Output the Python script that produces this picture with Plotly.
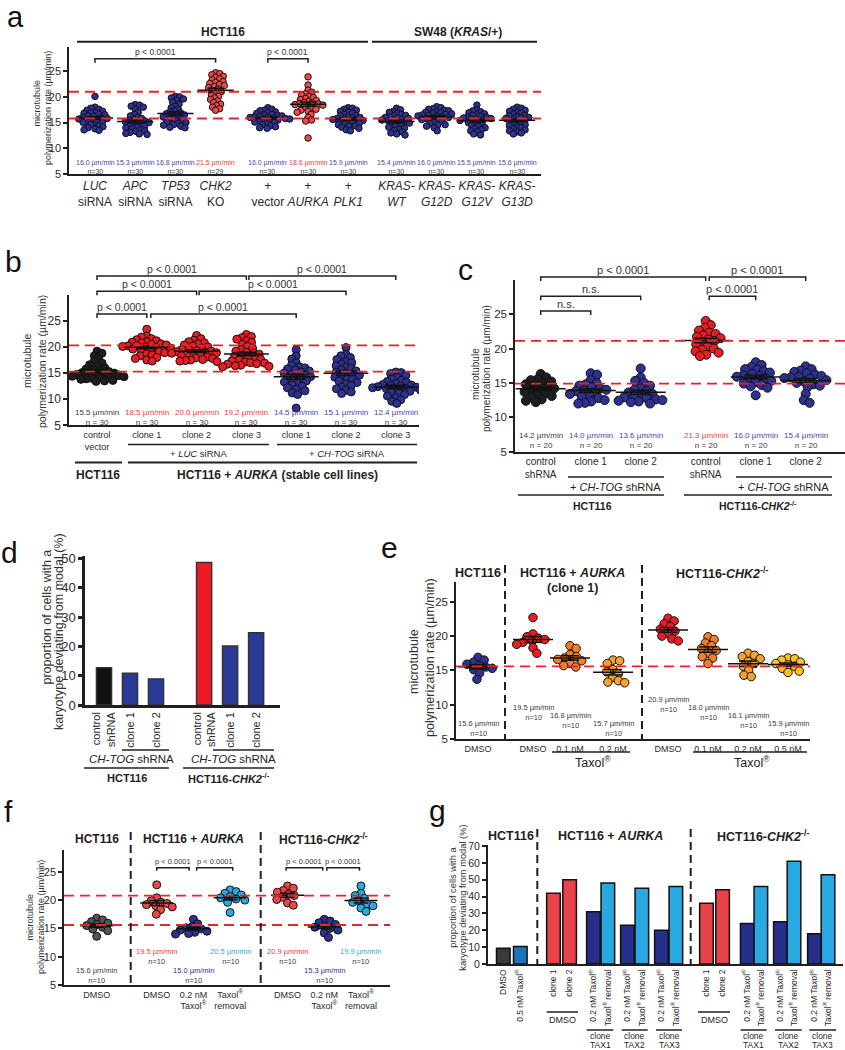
import numpy as np
import plotly.graph_objects as go

W, H = 845, 1050
FONT = "Arial, 'Liberation Sans', Helvetica, sans-serif"

# ============================ DATA ============================
# (a) microtubule polymerization rate (um/min), HCT116 and SW48 (KRAS/+)
a_categories = ["<i>LUC</i><br>siRNA", "<i>APC</i><br>siRNA", "<i>TP53</i><br>siRNA", "<i>CHK2</i><br>KO",
                "+<br>vector", "+<br><i>AURKA</i>", "+<br><i>PLK1</i>",
                "<i>KRAS-</i><br><i>WT</i>", "<i>KRAS-</i><br><i>G12D</i>",
                "<i>KRAS-</i><br><i>G12V</i>", "<i>KRAS-</i><br><i>G13D</i>"]
a_luc = [20.1, 18.0, 17.8, 17.6, 17.4, 17.2, 17.0, 16.9, 16.8, 16.6, 16.5, 16.3, 16.2, 16.0, 15.9,
         15.8, 15.7, 15.5, 15.3, 15.1, 15.0, 14.8, 14.6, 14.4, 14.2, 14.0, 13.8, 13.6, 13.5, 15.6]
a_apc = [18.5, 18.4, 18.2, 18.0, 17.6, 17.0, 16.6, 16.3, 16.0, 15.8, 15.6, 15.4, 15.3, 15.1, 15.0,
         14.8, 14.6, 14.5, 14.3, 14.1, 14.0, 13.8, 13.6, 13.4, 13.3, 13.1, 12.9, 12.8, 12.7, 15.2]
a_tp53 = [20.1, 20.0, 19.8, 19.6, 19.3, 19.0, 18.6, 18.2, 17.9, 17.6, 17.3, 17.1, 16.9, 16.7, 16.5,
          16.3, 16.1, 15.9, 15.7, 15.5, 15.3, 15.1, 15.0, 14.8, 14.6, 14.5, 14.3, 14.1, 14.0, 16.6]
a_chk2 = [24.7, 24.5, 24.3, 24.0, 23.8, 23.5, 23.3, 23.0, 22.8, 22.6, 22.4, 22.2, 22.0, 21.8, 21.5,
          21.3, 21.0, 20.7, 20.4, 20.1, 19.8, 19.5, 19.2, 18.9, 18.6, 18.3, 18.0, 17.7, 17.4]
a_vector = [17.9, 17.6, 17.4, 17.3, 17.1, 16.9, 16.8, 16.6, 16.5, 16.4, 16.3, 16.2, 16.1, 16.0, 16.0,
            15.9, 15.8, 15.7, 15.6, 15.5, 15.4, 15.3, 15.1, 15.0, 14.8, 14.6, 14.4, 14.2, 14.0, 13.9]
a_aurka = [23.9, 22.3, 21.3, 20.9, 20.6, 20.3, 20.1, 19.9, 19.7, 19.5, 19.3, 19.1, 18.9, 18.8, 18.7,
           18.6, 18.5, 18.4, 18.2, 18.0, 17.8, 17.6, 17.4, 17.2, 17.0, 16.6, 16.0, 15.5, 15.3, 12.0]
a_plk1 = [17.9, 17.8, 17.6, 17.4, 17.2, 17.0, 16.8, 16.6, 16.4, 16.3, 16.1, 16.0, 15.9, 15.8, 15.7,
          15.6, 15.5, 15.4, 15.3, 15.2, 15.0, 14.9, 14.7, 14.6, 14.4, 14.3, 14.1, 13.9, 13.6, 13.4]
a_kras_wt = [17.8, 17.5, 17.2, 17.0, 16.8, 16.6, 16.4, 16.3, 16.1, 16.0, 15.9, 15.8, 15.6, 15.5, 15.4,
             15.3, 15.2, 15.0, 14.9, 14.7, 14.5, 14.3, 14.1, 13.9, 13.7, 13.5, 13.2, 13.0, 12.8, 12.6]
a_kras_g12d = [18.1, 17.9, 17.7, 17.6, 17.4, 17.3, 17.1, 17.0, 16.9, 16.8, 16.7, 16.6, 16.5, 16.4, 16.3,
               16.2, 16.1, 16.0, 15.9, 15.8, 15.6, 15.4, 15.2, 15.0, 14.8, 14.6, 14.5, 14.3, 14.0, 13.4]
a_kras_g12v = [18.4, 17.5, 17.3, 17.1, 16.9, 16.7, 16.5, 16.4, 16.2, 16.1, 16.0, 15.9, 15.8, 15.7, 15.6,
               15.5, 15.4, 15.2, 15.0, 14.8, 14.6, 14.4, 14.2, 14.0, 13.8, 13.6, 13.4, 13.2, 12.8, 12.6]
a_kras_g13d = [18.0, 17.8, 17.6, 17.4, 17.2, 17.0, 16.8, 16.6, 16.4, 16.3, 16.1, 16.0, 15.9, 15.8, 15.7,
               15.5, 15.3, 15.1, 15.0, 14.8, 14.6, 14.4, 14.2, 14.0, 13.8, 13.6, 13.4, 13.2, 13.0, 12.8]
a_rate_labels = ["16.0", "15.3", "16.8", "21.5", "16.0", "18.6", "15.9", "15.4", "16.0", "15.5", "15.6"]
a_n = [30, 30, 30, 29, 30, 30, 30, 30, 30, 30, 30]
a_reference = [21.0, 15.8]

# (b) HCT116 + AURKA stable cell lines
b_categories = ["control<br>vector", "clone 1", "clone 2", "clone 3", "clone 1", "clone 2", "clone 3"]
b_control = [19.2, 18.8, 18.3, 17.7, 17.2, 16.9, 16.6, 16.3, 16.0, 15.8, 15.6, 15.4, 15.3, 15.1, 15.0,
             14.9, 14.8, 14.7, 14.6, 14.5, 14.4, 14.3, 14.2, 14.1, 14.0, 13.9, 13.8, 13.6, 13.5, 13.4]
b_luc_c1 = [23.4, 22.1, 21.9, 21.6, 21.4, 21.2, 21.0, 20.9, 20.8, 20.6, 20.5, 20.4, 20.3, 20.2, 20.1,
            20.0, 19.9, 19.8, 19.6, 19.5, 19.3, 19.1, 18.9, 18.7, 18.5, 18.3, 18.0, 17.8, 17.5, 17.3]
b_luc_c2 = [22.2, 21.6, 21.3, 21.0, 20.8, 20.6, 20.4, 20.2, 20.0, 19.8, 19.6, 19.5, 19.3, 19.2, 19.1,
            19.0, 18.9, 18.8, 18.7, 18.6, 18.5, 18.3, 18.1, 17.9, 17.8, 17.6, 17.5, 17.4, 17.3, 17.2]
b_luc_c3 = [22.4, 22.0, 21.8, 21.5, 21.2, 20.9, 20.5, 20.1, 19.8, 19.5, 19.2, 19.0, 18.8, 18.6, 18.4,
            18.2, 18.0, 17.8, 17.6, 17.5, 17.3, 17.1, 17.0, 16.9, 16.8, 16.7, 16.5, 16.4, 16.3, 16.2]
b_tog_c1 = [19.5, 18.3, 17.7, 17.0, 16.5, 16.2, 16.0, 15.8, 15.6, 15.4, 15.2, 15.0, 14.8, 14.6, 14.5,
            14.3, 14.1, 13.9, 13.7, 13.5, 13.3, 13.0, 12.7, 12.5, 12.2, 11.9, 11.6, 11.2, 10.9, 8.3]
b_tog_c2 = [19.9, 18.6, 18.3, 18.0, 17.6, 17.2, 17.0, 16.7, 16.4, 16.1, 15.9, 15.6, 15.4, 15.2, 15.0,
            14.8, 14.6, 14.4, 14.2, 14.0, 13.8, 13.5, 13.2, 12.9, 12.6, 12.3, 12.0, 11.7, 11.4, 11.1]
b_tog_c3 = [15.2, 15.1, 14.9, 14.6, 14.2, 13.9, 13.6, 13.4, 13.2, 13.0, 12.8, 12.7, 12.6, 12.5, 12.4,
            12.3, 12.2, 12.1, 12.0, 11.9, 11.7, 11.5, 11.3, 11.1, 10.9, 10.6, 10.3, 9.9, 9.6, 9.2]
b_rate_labels = ["15.5", "18.5", "20.0", "19.2", "14.5", "15.1", "12.4"]
b_n = [30, 30, 30, 30, 30, 30, 30]
b_reference = [20.3, 15.3]

# (c) HCT116 and HCT116-CHK2-/- with CH-TOG shRNA
c_categories = ["control<br>shRNA", "clone 1", "clone 2", "control<br>shRNA", "clone 1", "clone 2"]
c_hct_ctrl = [16.3, 15.8, 15.5, 15.4, 15.2, 15.0, 14.8, 14.6, 14.4, 14.2, 14.1, 13.9, 13.7, 13.5, 13.3,
              13.1, 12.9, 12.6, 12.4, 12.2]
c_hct_c1 = [16.4, 16.2, 15.4, 15.0, 14.8, 14.6, 14.4, 14.2, 14.0, 13.9, 13.8, 13.6, 13.4, 13.2, 13.0,
            12.8, 12.5, 12.3, 12.1, 12.0]
c_hct_c2 = [17.1, 15.8, 15.3, 15.0, 14.6, 14.2, 14.0, 13.8, 13.6, 13.4, 13.2, 13.0, 12.9, 12.8, 12.6,
            12.5, 12.4, 12.3, 12.2, 12.0]
c_chk2_ctrl = [24.0, 23.4, 23.0, 22.6, 22.3, 22.1, 21.9, 21.7, 21.5, 21.3, 21.1, 20.9, 20.6, 20.3, 20.0,
               19.8, 19.6, 19.4, 19.1, 18.9]
c_chk2_c1 = [18.0, 17.6, 17.3, 17.0, 16.9, 16.7, 16.5, 16.3, 16.1, 16.0, 15.9, 15.7, 15.5, 15.3, 15.1,
             14.9, 14.7, 14.5, 14.3, 13.2]
c_chk2_c2 = [17.4, 17.0, 16.8, 16.6, 16.4, 16.2, 16.0, 15.9, 15.8, 15.7, 15.6, 15.4, 15.2, 15.0, 14.8,
             14.6, 14.4, 13.4, 12.5, 12.1]
c_rate_labels = ["14.2", "14.0", "13.6", "21.3", "16.0", "15.4"]
c_n = [20, 20, 20, 20, 20, 20]
c_reference = [21.1, 14.9]

# (d) proportion of cells with a karyotype deviating from modal (%)
d_categories = ["control<br>shRNA", "clone 1", "clone 2", "control<br>shRNA", "clone 1", "clone 2"]
d_values = [12.7, 10.8, 8.9, 48.6, 20.1, 24.7]

# (e) Taxol titration
e_categories = ["DMSO", "DMSO", "0.1 nM", "0.2 nM", "DMSO", "0.1 nM", "0.2 nM", "0.5 nM"]
e_hct_dmso = [16.9, 16.5, 16.2, 15.9, 15.7, 15.5, 15.3, 15.1, 14.6, 13.7]
e_aur_dmso = [22.7, 20.3, 19.9, 19.7, 19.5, 19.3, 19.1, 18.8, 18.3, 17.5]
e_aur_01 = [18.6, 18.2, 17.3, 17.0, 16.8, 16.6, 16.4, 16.0, 15.7, 15.5]
e_aur_02 = [16.5, 16.4, 16.0, 15.1, 14.8, 14.5, 14.0, 13.5, 13.3, 13.2]
e_chk_dmso = [22.6, 22.2, 21.8, 21.4, 21.0, 20.7, 20.4, 20.0, 19.6, 19.3]
e_chk_01 = [19.9, 19.5, 19.0, 18.6, 18.2, 17.9, 17.5, 17.0, 16.8, 16.0]
e_chk_02 = [17.5, 17.2, 17.0, 16.7, 16.3, 16.0, 15.6, 15.0, 14.3, 14.1]
e_chk_05 = [16.8, 16.7, 16.5, 16.2, 16.0, 15.8, 15.6, 15.3, 14.9, 14.7]
e_rate_labels = ["15.6", "19.5", "16.8", "15.7", "20.9", "18.0", "16.1", "15.9"]
e_n = [10, 10, 10, 10, 10, 10, 10, 10]
e_reference = [15.6]

# (f) Taxol removal
f_categories = ["DMSO", "DMSO", "0.2 nM<br>Taxol<sup>®</sup>", "Taxol<sup>®</sup><br>removal",
                "DMSO", "0.2 nM<br>Taxol<sup>®</sup>", "Taxol<sup>®</sup><br>removal"]
f_hct_dmso = [16.8, 16.5, 16.2, 15.9, 15.7, 15.5, 15.2, 14.9, 14.6, 13.6]
f_aur_dmso = [22.7, 20.4, 19.9, 19.6, 19.4, 19.2, 19.0, 18.8, 18.3, 17.5]
f_aur_taxol = [16.6, 15.8, 15.3, 15.1, 14.9, 14.7, 14.5, 14.3, 14.1, 14.0]
f_aur_removal = [21.8, 21.5, 21.2, 20.9, 20.6, 20.4, 20.2, 20.0, 19.6, 17.8]
f_chk_dmso = [22.5, 22.1, 21.7, 21.4, 21.0, 20.8, 20.5, 20.1, 19.5, 19.1]
f_chk_taxol = [16.6, 16.3, 16.0, 15.7, 15.4, 15.2, 15.0, 14.7, 14.2, 13.4]
f_chk_removal = [22.5, 21.2, 20.8, 20.3, 19.9, 19.6, 19.3, 19.0, 18.6, 18.0]
f_rate_labels = ["15.6", "19.5", "15.0", "20.5", "20.9", "15.3", "19.9"]
f_n = [10, 10, 10, 10, 10, 10, 10]
f_reference = [20.8, 15.6]

# (g) karyotype deviation after Taxol treatment / removal (%)
g_categories = ["DMSO", "0.5 nM Taxol<sup>®</sup>", "clone 1", "clone 2",
                "0.2 nM Taxol<sup>®</sup>", "Taxol<sup>®</sup> removal",
                "0.2 nM Taxol<sup>®</sup>", "Taxol<sup>®</sup> removal",
                "0.2 nM Taxol<sup>®</sup>", "Taxol<sup>®</sup> removal",
                "clone 1", "clone 2",
                "0.2 nM Taxol<sup>®</sup>", "Taxol<sup>®</sup> removal",
                "0.2 nM Taxol<sup>®</sup>", "Taxol<sup>®</sup> removal",
                "0.2 nM Taxol<sup>®</sup>", "Taxol<sup>®</sup> removal"]
g_values = [9.4, 10.4, 42, 50, 31, 48, 23, 45, 20, 46, 36, 44, 24, 46, 25, 61, 18, 53]

# ============================ STYLE / LAYOUT ============================
BLUE = "#2e3192"
RED_A = "#ef4a4a"
RED = "#ed1c24"
BLACKDOT = "#1e1e1e"
ORANGE = "#f47d2a"
LORANGE = "#f7a230"
YELLOW = "#fcc31a"
CYAN = "#29a9e0"
GREYDOT = "#545454"
TXT_BLUE = "#4646a8"
TXT_RED = "#f03c3c"
TXT_GREY = "#3a3a3a"
TXT_CYAN = "#2aa8e0"

fig = go.Figure()
shapes, annotations, layout_axes = [], [], {}


def PX(x):
    return x / W


def PY(y):
    return 1 - y / H


def make_panel(idx, xl, xr, yt, yb, x0, step, ymin, ppu):
    return dict(idx=idx, xl=xl, xr=xr, yt=yt, yb=yb, x0=x0, step=step, ymin=ymin, ppu=ppu,
                xr0=(xl - x0) / step, xr1=(xr - x0) / step, yr1=ymin + (yb - yt) / ppu)


def axn(P):
    s = "" if P["idx"] == 1 else str(P["idx"])
    return "x" + s, "y" + s, "xaxis" + s, "yaxis" + s


def xpix(P, pos):
    return P["x0"] + P["step"] * pos


def ypix(P, v):
    return P["yb"] - (v - P["ymin"]) * P["ppu"]


def ann(x, y, text, size, color="#231f20", bold=False, xanchor="center", yanchor="middle", angle=0):
    if bold:
        text = "<b>" + text + "</b>"
    annotations.append(dict(x=PX(x), y=PY(y), xref="paper", yref="paper", text=text, showarrow=False,
                            font=dict(size=size, color=color, family=FONT), xanchor=xanchor,
                            yanchor=yanchor, textangle=angle, borderpad=0))


def hline(x1, x2, y, w=1.5, color="#231f20"):
    shapes.append(dict(type="line", xref="paper", yref="paper", x0=PX(x1), x1=PX(x2), y0=PY(y), y1=PY(y),
                       line=dict(color=color, width=w)))


def vdash(x, y1, y2):
    shapes.append(dict(type="line", xref="paper", yref="paper", x0=PX(x), x1=PX(x), y0=PY(y1), y1=PY(y2),
                       line=dict(color="#231f20", width=2, dash="8px,5px")))


def bracket(P, p1, p2, level, label, size, arm=4, gap=7):
    x1, x2, y = xpix(P, p1), xpix(P, p2), ypix(P, level)
    path = "M {a},{b} L {a},{c} L {d},{c} L {d},{b}".format(a=PX(x1), b=PY(y + arm), c=PY(y), d=PX(x2))
    shapes.append(dict(type="path", xref="paper", yref="paper", path=path,
                       line=dict(color="#231f20", width=1.5)))
    ann((x1 + x2) / 2, y - gap, label, size, color="#333333")


def setup_axes(P, ticktext, tickfont, yticks, ytickfont, angle=0, lw=1.5):
    xa, ya, xk, yk = axn(P)
    layout_axes[xk] = dict(domain=[PX(P["xl"]), PX(P["xr"])], range=[P["xr0"], P["xr1"]], anchor=ya,
                           showline=True, linecolor="#231f20", linewidth=lw, showgrid=False, zeroline=False,
                           tickvals=P["slots"], ticktext=ticktext, ticks="", tickangle=angle,
                           automargin=False,
                           tickfont=dict(size=tickfont, color="#2a2a2a", family=FONT), fixedrange=True)
    layout_axes[yk] = dict(domain=[PY(P["yb"]), PY(P["yt"])], range=[P["ymin"], P["yr1"]], anchor=xa,
                           showline=True, linecolor="#231f20", linewidth=lw, showgrid=False, zeroline=False,
                           ticks="outside", ticklen=4, tickwidth=lw, tickcolor="#231f20", tickvals=yticks,
                           automargin=False,
                           tickfont=dict(size=ytickfont, color="#2a2a2a", family=FONT), fixedrange=True)


def swarm_offsets(vals, ppu, diam):
    ys = np.asarray(vals, float) * ppu
    order = np.argsort(-ys, kind="stable")
    px_l, py_l = [], []
    offs = np.zeros(len(ys))
    for i in order:
        y = ys[i]
        cands = [0.0]
        for qx, qy in zip(px_l, py_l):
            dy = y - qy
            if abs(dy) < diam:
                dx = np.sqrt(diam ** 2 - dy ** 2)
                cands += [qx + dx, qx - dx]
        cands.sort(key=lambda c: (round(abs(c), 6), -c if len(px_l) % 2 else c))
        chosen = cands[-1]
        for c in cands:
            if all((c - qx) ** 2 + (y - qy) ** 2 >= diam ** 2 - 1e-6 for qx, qy in zip(px_l, py_l)):
                chosen = c
                break
        px_l.append(chosen)
        py_l.append(y)
        offs[i] = chosen
    return offs


def dot_panel(P, groups, colors, msize, diam, hw, refs):
    xa, ya, _, _ = axn(P)
    for vals, s, c in zip(groups, P["slots"], colors):
        offs = swarm_offsets(vals, P["ppu"], diam)
        fig.add_trace(go.Scatter(x=s + offs / P["step"], y=vals, mode="markers", xaxis=xa, yaxis=ya,
                                 marker=dict(size=msize, color=c, line=dict(color="#111111", width=1)),
                                 hoverinfo="skip", showlegend=False))
    xs, ys = [], []
    for vals, s in zip(groups, P["slots"]):
        v = np.asarray(vals, float)
        m, se = v.mean(), v.std(ddof=1) / np.sqrt(len(v))
        hs = hw * 0.45
        xs += [s - hw, s + hw, None, s - hs, s + hs, None, s - hs, s + hs, None, s, s, None]
        ys += [m, m, None, m + se, m + se, None, m - se, m - se, None, m - se, m + se, None]
    fig.add_trace(go.Scatter(x=xs, y=ys, mode="lines", xaxis=xa, yaxis=ya, hoverinfo="skip",
                             line=dict(color="#111111", width=1.5), showlegend=False))
    for r in refs:
        fig.add_trace(go.Scatter(x=[P["xr0"], P["xr1"]], y=[r, r], mode="lines", xaxis=xa, yaxis=ya,
                                 hoverinfo="skip", showlegend=False,
                                 line=dict(color="#ec2227", width=1.8, dash="10px,6px")))


def stat_labels(P, rates, ns, colors, ycenters, size, nfmt="n={}"):
    for pos, r, n, c, yc in zip(P["slots"], rates, ns, colors, ycenters):
        txt = "<span style='color:{}'>{} µm/min</span><br>{}".format(c, r, nfmt.format(n))
        ann(xpix(P, pos), yc, txt, size, color=TXT_GREY)


def ytitle(x1, y1, line1, x2, y2, line2, size):
    ann(x1, y1, line1, size, color="#333333", angle=-90)
    ann(x2, y2, line2, size, color="#333333", angle=-90)


MT1, MT2 = "microtubule", "polymerization rate (µm/min)"
KT1, KT2 = "proportion of cells with a", "karyotype deviating from modal (%)"

# ---------------- panel a ----------------
PA = make_panel(1, 69, 541, 47, 174, 95, 40.2, 5, 5.14)
PA["slots"] = [0, 1, 2, 3, 4.3, 5.3, 6.3, 7.5, 8.5, 9.5, 10.5]
a_groups = [a_luc, a_apc, a_tp53, a_chk2, a_vector, a_aurka, a_plk1, a_kras_wt, a_kras_g12d, a_kras_g12v, a_kras_g13d]
a_colors = [BLUE, BLUE, BLUE, RED_A, BLUE, RED_A, BLUE, BLUE, BLUE, BLUE, BLUE]
setup_axes(PA, a_categories, 12, [5, 10, 15, 20, 25], 11)
dot_panel(PA, a_groups, a_colors, 6.5, 4.3, 0.45, a_reference)
a_txtc = [TXT_RED if c == RED_A else TXT_BLUE for c in a_colors]
stat_labels(PA, a_rate_labels, a_n, a_txtc, [166.5] * 11, 7)
bracket(PA, 0, 3, 27.4, "p < 0.0001", 8.5)
bracket(PA, 4.3, 5.3, 27.4, "p < 0.0001", 8.5)
ytitle(36.5, 103, MT1, 48, 108, MT2, 9)
ann(223, 32, "HCT116", 12, bold=True)
ann(458, 32, "SW48 (<i>KRAS</i>/+)", 12, bold=True)
hline(77, 368, 41.7, 2)
hline(372, 537, 41.7, 2)

# ---------------- panel b ----------------
PB = make_panel(2, 69, 419, 295, 425.3, 97, 49.8, 5, 5.22)
PB["slots"] = [0, 1, 2, 3, 4, 5, 6]
b_groups = [b_control, b_luc_c1, b_luc_c2, b_luc_c3, b_tog_c1, b_tog_c2, b_tog_c3]
b_colors = [BLACKDOT, RED, RED, RED, BLUE, BLUE, BLUE]
setup_axes(PB, b_categories, 9, [5, 10, 15, 20, 25], 12)
dot_panel(PB, b_groups, b_colors, 8, 5.4, 0.45, b_reference)
stat_labels(PB, b_rate_labels, b_n, [TXT_GREY, TXT_RED, TXT_RED, TXT_RED, TXT_BLUE, TXT_BLUE, TXT_BLUE],
            [417] * 7, 8, "n = {}")
bracket(PB, 0, 1, 26.3, "p < 0.0001", 10.5)
bracket(PB, 1.08, 4.0, 26.3, "p < 0.0001", 10.5)
bracket(PB, 0, 2, 30.7, "p < 0.0001", 10.5)
bracket(PB, 2.05, 5.0, 30.7, "p < 0.0001", 10.5)
bracket(PB, 0, 3, 33.6, "p < 0.0001", 10.5)
bracket(PB, 3.05, 6.0, 33.6, "p < 0.0001", 10.5)
ytitle(27, 361, MT1, 42, 362, MT2, 10.5)
hline(128, 269, 444.5, 1.5)
hline(277, 417, 444.5, 1.5)
ann(198, 453, "+ <i>LUC</i> siRNA", 9.5)
ann(347, 453, "+ <i>CH-TOG</i> siRNA", 9.5)
hline(75, 122, 462.5, 2)
hline(128, 417, 462.5, 2)
ann(98, 474.5, "HCT116", 12, bold=True)
ann(277, 474.5, "HCT116 + <i>AURKA</i> (stable cell lines)", 12, bold=True)

# ---------------- panel c ----------------
PC = make_panel(3, 515, 845, 280, 451.7, 540.7, 50, 5, 6.88)
PC["slots"] = [0, 1, 2, 3.3, 4.3, 5.3]
c_groups = [c_hct_ctrl, c_hct_c1, c_hct_c2, c_chk2_ctrl, c_chk2_c1, c_chk2_c2]
c_colors = [BLACKDOT, BLUE, BLUE, RED, BLUE, BLUE]
setup_axes(PC, c_categories, 10, [5, 10, 15, 20, 25], 11.5)
dot_panel(PC, c_groups, c_colors, 9, 6.5, 0.5, c_reference)
stat_labels(PC, c_rate_labels, c_n, [TXT_GREY, TXT_BLUE, TXT_BLUE, TXT_RED, TXT_BLUE, TXT_BLUE],
            [441] * 6, 8, "n = {}")
bracket(PC, 0, 1, 25.45, "n.s.", 11)
bracket(PC, 0, 2, 27.6, "n.s.", 11)
bracket(PC, 0, 3.3, 30.4, "p < 0.0001", 11)
bracket(PC, 3.37, 4.3, 27.6, "p < 0.0001", 11)
bracket(PC, 3.37, 5.3, 30.4, "p < 0.0001", 11)
ytitle(475, 374, MT1, 486, 369, MT2, 10)
hline(568, 664, 477, 1.5)
hline(736, 832, 477, 1.5)
ann(615, 487, "+ <i>CH-TOG</i> shRNA", 11)
ann(783, 487, "+ <i>CH-TOG</i> shRNA", 11)
hline(518, 664, 495, 1.5)
hline(684, 832, 495, 1.5)
ann(592, 505.5, "HCT116", 10.5, bold=True)
ann(758, 505.5, "HCT116-<i>CHK2</i><sup>-/-</sup>", 10.5, bold=True)

# ---------------- panel d ----------------
PD = make_panel(4, 85, 280, 556, 705, 104, 26, 0, 2.93)
PD["slots"] = [0, 1, 2, 3.85, 4.85, 5.85]
setup_axes(PD, d_categories, 11, [0, 10, 20, 30, 40, 50], 13, angle=-90, lw=2.5)
fig.add_trace(go.Bar(x=PD["slots"], y=d_values, width=0.58, xaxis="x4", yaxis="y4", hoverinfo="skip",
                     marker=dict(color=["#111111", "#2b3a96", "#2b3a96", RED, "#2b3a96", "#2b3a96"],
                                 line=dict(color="#333333", width=1.5)), showlegend=False))
ytitle(46.5, 617, KT1, 59, 632, KT2, 12.5)
hline(122, 169, 750, 1.5)
hline(213, 274, 750, 1.5)
ann(131.7, 758.5, "<i>CH-TOG</i> shRNA", 11.5)
ann(233, 758.5, "<i>CH-TOG</i> shRNA", 11.5)
hline(84, 169, 768, 1.5)
hline(183, 274, 768, 1.5)
ann(127, 778, "HCT116", 11, bold=True)
ann(229, 778, "HCT116-<i>CHK2</i><sup>-/-</sup>", 11, bold=True)

# ---------------- panel e ----------------
PE = make_panel(5, 456, 810, 582, 739, 478, 40, 5, 6.86)
PE["slots"] = [0, 1.375, 2.3, 3.375, 4.75, 5.75, 6.75, 7.75]
e_groups = [e_hct_dmso, e_aur_dmso, e_aur_01, e_aur_02, e_chk_dmso, e_chk_01, e_chk_02, e_chk_05]
e_colors = [BLUE, RED, ORANGE, LORANGE, RED, ORANGE, LORANGE, YELLOW]
setup_axes(PE, e_categories, 9, [5, 10, 15, 20, 25], 11.5)
dot_panel(PE, e_groups, e_colors, 8.5, 6.7, 0.5, e_reference)
stat_labels(PE, e_rate_labels, e_n, [TXT_GREY] * 8, [728, 712, 720, 728, 704, 712, 720, 728], 7.5)
ytitle(414, 662, MT1, 430, 658, MT2, 12.5)
ann(478, 573, "HCT116", 12.5, bold=True)
ann(572, 573, "HCT116 + <i>AURKA</i>", 12.5, bold=True)
ann(572, 588, "(clone 1)", 12.5, bold=True)
ann(722, 573, "HCT116-<i>CHK2</i><sup>-/-</sup>", 12.5, bold=True)
vdash(505, 565, 741)
vdash(642, 565, 741)
hline(552, 630, 752, 1.5)
hline(693, 807, 752, 1.5)
ann(593, 762, "Taxol<sup>®</sup>", 12.5)
ann(752, 762, "Taxol<sup>®</sup>", 12.5)

# ---------------- panel f ----------------
PF = make_panel(6, 64, 390, 850, 985, 96.7, 36.7, 5, 5.66)
PF["slots"] = [0, 1.636, 2.636, 3.636, 5.2, 6.2, 7.2]
f_groups = [f_hct_dmso, f_aur_dmso, f_aur_taxol, f_aur_removal, f_chk_dmso, f_chk_taxol, f_chk_removal]
f_colors = [GREYDOT, "#e9474a", BLUE, CYAN, "#e9474a", BLUE, CYAN]
setup_axes(PF, f_categories, 9, [5, 10, 15, 20, 25], 11)
dot_panel(PF, f_groups, f_colors, 8, 6.2, 0.45, f_reference)
stat_labels(PF, f_rate_labels, f_n, [TXT_GREY, TXT_RED, BLUE, TXT_CYAN, TXT_RED, BLUE, TXT_CYAN],
            [975, 956, 975, 956, 956, 975, 956], 7.5)
bracket(PF, 1.636, 2.52, 25.7, "p < 0.0001", 7.5, arm=3, gap=6)
bracket(PF, 2.725, 3.706, 25.7, "p < 0.0001", 7.5, arm=3, gap=6)
bracket(PF, 5.16, 6.16, 25.7, "p < 0.0001", 7.5, arm=3, gap=6)
bracket(PF, 6.27, 7.16, 25.7, "p < 0.0001", 7.5, arm=3, gap=6)
ytitle(29.5, 917, MT1, 41, 917, MT2, 9)
ann(97, 839, "HCT116", 12, bold=True)
ann(193, 839, "HCT116 + <i>AURKA</i>", 12, bold=True)
ann(323, 839, "HCT116-<i>CHK2</i><sup>-/-</sup>", 12, bold=True)
vdash(130.7, 832, 988)
vdash(260.7, 832, 988)

# ---------------- panel g ----------------
PG = make_panel(7, 488, 843, 845, 964, 503.3, 17, 0, 1.686)
PG["slots"] = [0, 1, 2.95, 3.9, 5.3, 6.15, 7.3, 8.15, 9.3, 10.15, 11.95, 12.9, 14.35, 15.15, 16.3, 17.1, 18.3, 19.1]
g_colors = ["#3a3a3a", "#1c75bc", "#e8434a", "#e8434a"] + ["#262f8b", "#28a9e1"] * 3 + \
           ["#e8434a", "#e8434a"] + ["#262f8b", "#28a9e1"] * 3
setup_axes(PG, g_categories, 8.5, [0, 10, 20, 30, 40, 50, 60, 70], 10.5, angle=-90, lw=2)
fig.add_trace(go.Bar(x=PG["slots"], y=g_values, width=0.8, xaxis="x7", yaxis="y7", hoverinfo="skip",
                     marker=dict(color=g_colors, line=dict(color="#111111", width=1.5)), showlegend=False))
ytitle(452.7, 897, KT1, 462.7, 898, KT2, 9.3)
ann(510.7, 836, "HCT116", 12.5, bold=True)
ann(610, 836, "HCT116 + <i>AURKA</i>", 12.5, bold=True)
ann(763, 836, "HCT116-<i>CHK2</i><sup>-/-</sup>", 12.5, bold=True)
vdash(537.3, 829, 966)
vdash(690.7, 829, 966)
hline(546.7, 578, 1012, 1.5)
hline(698, 730, 1012, 1.5)
ann(562, 1019.5, "DMSO", 9)
ann(714, 1019.5, "DMSO", 9)
for xa_, xb_, lab in [(586.7, 613.3, "TAX1"), (621.7, 647.7, "TAX2"), (656, 682, "TAX3"),
                      (740.7, 766.7, "TAX1"), (775, 801.7, "TAX2"), (809.3, 836, "TAX3")]:
    hline(xa_, xb_, 1030, 1.5)
    ann((xa_ + xb_) / 2, 1035.5, "clone", 8.5)
    ann((xa_ + xb_) / 2, 1044.5, lab, 8.5)

# ---------------- panel letters ----------------
ann(15, 0, "a", 29, color="#111111", yanchor="top")
for lx, ly, letter in [(13, 261, "b"), (465, 269, "c"), (9, 552, "d"),
                       (389, 547, "e"), (8, 811, "f"), (437, 810, "g")]:
    ann(lx, ly, letter, 30, color="#111111")

fig.update_layout(width=W, height=H, autosize=False, margin=dict(l=0, r=0, t=0, b=0, pad=0),
                  paper_bgcolor="white", plot_bgcolor="white", showlegend=False,
                  font=dict(family=FONT, color="#231f20"),
                  shapes=shapes, annotations=annotations, **layout_axes)
fig.write_html("out.html", config={"displayModeBar": False},
               post_script="document.body.style.margin='0px';document.body.style.padding='0px';")
